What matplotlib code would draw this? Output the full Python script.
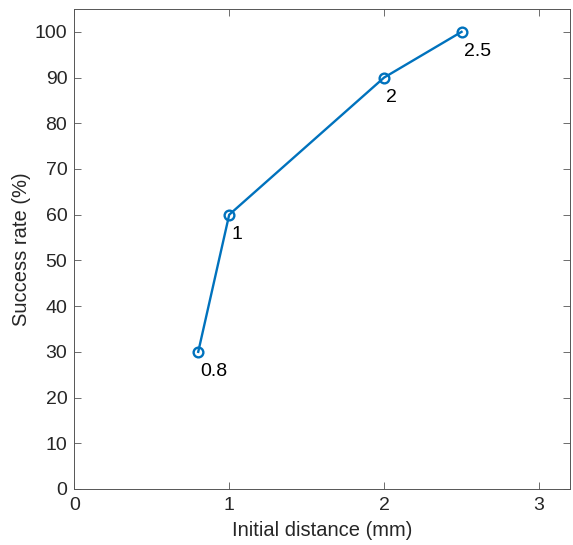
import matplotlib.pyplot as plt

# data
distance = [0.8, 1, 2, 2.5]
success = [30, 60, 90, 100]
point_labels = ['0.8', '1', '2', '2.5']

plt.rcParams['font.family'] = ['Liberation Sans', 'DejaVu Sans']

fig = plt.figure(figsize=(5.73, 5.45), dpi=100)
ax = fig.add_axes([0.1297, 0.1028, 0.865, 0.8807])

ax.plot(distance, success, color='#0072BD', linewidth=1.7, marker='o',
        markersize=7, markerfacecolor='none', markeredgewidth=1.7)

for x, y, s in zip(distance, success, point_labels):
    ax.annotate(s, (x, y), xytext=(2, -20), textcoords='offset pixels',
                ha='left', va='center', fontsize=14, color='black')

ax.set_xlim(0, 3.2)
ax.set_ylim(0, 105)
ax.set_xticks([0, 1, 2, 3])
ax.set_yticks(range(0, 101, 10))
ax.tick_params(direction='in', top=True, right=True, length=5, width=0.6,
               labelsize=14, colors='#555555', labelcolor='#262626')
ax.tick_params(axis='x', pad=6)
ax.tick_params(axis='y', pad=5)
for sp in ax.spines.values():
    sp.set_color('#555555')
    sp.set_linewidth(0.7)

ax.set_xlabel('Initial distance (mm)', fontsize=14.5, color='#262626', labelpad=5)
ax.set_ylabel('Success rate (%)', fontsize=14.5, color='#262626', labelpad=3)

plt.savefig('out.png', dpi=100)
